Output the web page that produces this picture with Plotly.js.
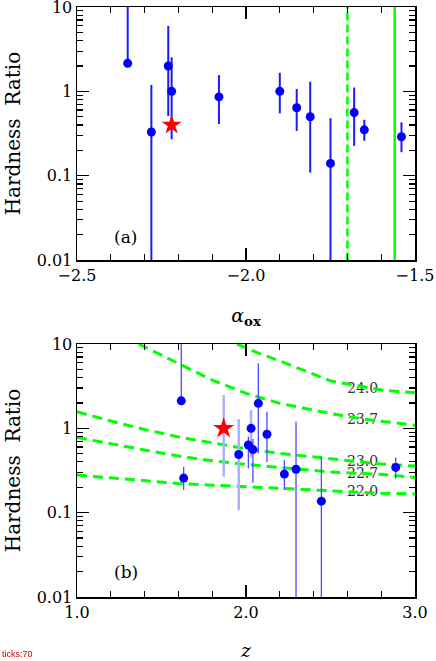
<!DOCTYPE html>
<html>
<head>
<meta charset="utf-8">
<script src="https://cdn.plot.ly/plotly-3.0.1.min.js"></script>
<style>
  body { margin: 0; background: #fff; }
  #chart { width: 436px; height: 661px; }
</style>
</head>
<body>
<div id="chart"></div>
<script>
// Panel (a): hardness ratio vs alpha_ox
const alphaOx = [-2.35, -2.28, -2.23, -2.22, -2.08, -1.90, -1.85, -1.81, -1.75, -1.68, -1.65, -1.54];
const hrA     = [2.15, 0.33, 2.0, 1.0, 0.86, 1.0, 0.64, 0.50, 0.14, 0.56, 0.35, 0.29];
const hrAHigh = [30, 1.19, 5.96, 2.53, 1.56, 1.66, 1.07, 1.30, 0.48, 1.11, 0.46, 0.43];
const hrALow  = [2.15, 0.001, 0.51, 0.27, 0.41, 0.55, 0.34, 0.109, 0.001, 0.226, 0.26, 0.19];
const starAlpha = [-2.22];
const starHrA = [0.40];
const dashedAlpha = -1.70;
const solidAlpha = -1.56;

// Panel (b): hardness ratio vs redshift
const zDark     = [1.617, 1.631, 2.014, 2.041, 2.073, 2.124, 2.227, 2.296, 2.446, 2.886];
const hrDark    = [2.12, 0.257, 0.634, 0.56, 1.98, 0.85, 0.287, 0.327, 0.137, 0.344];
const hrDarkHi  = [30, 0.35, 0.80, 0.75, 5.9, 1.57, 0.42, 1.2, 0.46, 0.45];
const hrDarkLo  = [2.12, 0.186, 0.335, 0.227, 0.505, 0.40, 0.186, 0.001, 0.001, 0.255];
const zFaint    = [1.957, 2.03];
const hrFaint   = [0.49, 1.0];
const hrFaintHi = [1.29, 1.65];
const hrFaintLo = [0.107, 0.45];
const starZ = [1.868];
const starHrB = [1.0];
const starHrBHi = [2.48];
const starHrBLo = [0.267];

// column density curves (log NH)
const nhLabels = ['24.0', '23.7', '23.0', '22.7', '22.0'];
const curveZ24_0 = [1.947, 2.065, 2.2, 2.5, 2.8, 3.0];
const curveHr24_0 = [10, 7.9, 6.3, 3.65, 2.85, 2.64];
const curveZ23_7 = [1.365, 1.6, 1.8, 2.0, 2.2, 2.5, 2.7, 3.0];
const curveHr23_7 = [10, 5.9, 3.74, 2.6, 1.98, 1.5, 1.28, 1.09];
const curveZ = [1.0, 1.2, 1.4, 1.6, 1.8, 2.0, 2.2, 2.5, 2.8, 3.0];
const curveHr23_0 = [1.57, 1.22, 0.97, 0.79, 0.675, 0.573, 0.505, 0.433, 0.377, 0.357];
const curveHr22_7 = [0.78, 0.65, 0.553, 0.469, 0.413, 0.374, 0.341, 0.303, 0.285, 0.262];
const curveHr22_0 = [0.279, 0.259, 0.239, 0.222, 0.212, 0.203, 0.194, 0.18, 0.17, 0.167];
const labelZ = [2.69, 2.69, 2.69, 2.69, 2.69];
const labelHr = [2.92, 1.25, 0.39, 0.284, 0.172];

const font = 'DejaVu Serif';
const green = '#00ff00';

function errUp(y, hi) { return y.map((v, i) => hi[i] - v); }
function errDown(y, lo) { return y.map((v, i) => v - lo[i]); }

function curve(x, y) {
    return {
        x: x, y: y, xaxis: 'x2', yaxis: 'y2', mode: 'lines', hoverinfo: 'skip',
        line: {color: green, width: 3, dash: '10px,6px'}
    };
}

let traces = [
    // vertical reference lines, panel (a)
    {x: [dashedAlpha, dashedAlpha], y: [0.001, 100], mode: 'lines',
     line: {color: green, width: 2.5, dash: '8px,4px'}},
    {x: [solidAlpha, solidAlpha], y: [0.001, 100], mode: 'lines',
     line: {color: green, width: 2.5}},
    {x: alphaOx, y: hrA, mode: 'markers',
     marker: {color: '#0000ff', size: 9},
     error_y: {type: 'data', symmetric: false, array: errUp(hrA, hrAHigh),
               arrayminus: errDown(hrA, hrALow), color: '#1a1aff', thickness: 2, width: 0}},
    {x: starAlpha, y: starHrA, mode: 'markers',
     marker: {color: '#ff0000', size: 15, symbol: 'star'}},

    // panel (b)
    {x: labelZ, y: labelHr, text: nhLabels, xaxis: 'x2', yaxis: 'y2', mode: 'text',
     textfont: {family: font, size: 14, color: '#333'}},
    curve(curveZ24_0, curveHr24_0),
    curve(curveZ23_7, curveHr23_7),
    curve(curveZ, curveHr23_0),
    curve(curveZ, curveHr22_7),
    curve(curveZ, curveHr22_0),
    {x: starZ, y: starHrB, xaxis: 'x2', yaxis: 'y2', mode: 'markers',
     marker: {color: '#ff0000', size: 16, symbol: 'star'},
     error_y: {type: 'data', symmetric: false, array: errUp(starHrB, starHrBHi),
               arrayminus: errDown(starHrB, starHrBLo), color: '#aab2ff', thickness: 2.5, width: 0}},
    {x: zFaint, y: hrFaint, xaxis: 'x2', yaxis: 'y2', mode: 'markers',
     marker: {color: '#0000ff', size: 9},
     error_y: {type: 'data', symmetric: false, array: errUp(hrFaint, hrFaintHi),
               arrayminus: errDown(hrFaint, hrFaintLo), color: '#aab2ff', thickness: 2.5, width: 0}},
    {x: zDark, y: hrDark, xaxis: 'x2', yaxis: 'y2', mode: 'markers',
     marker: {color: '#0000ff', size: 9},
     error_y: {type: 'data', symmetric: false, array: errUp(hrDark, hrDarkHi),
               arrayminus: errDown(hrDark, hrDarkLo), color: '#4a4aff', thickness: 1.3, width: 0}}
];

const frame = {
    showline: true, linecolor: '#000', linewidth: 1.5, mirror: 'allticks',
    ticks: 'inside', ticklen: 12, tickwidth: 1.2, tickcolor: '#000',
    showgrid: false, zeroline: false, ticklabeloverflow: 'allow',
    tickfont: {family: font, size: 16, color: '#000'}
};

function logAxis(domain, anchor) {
    return Object.assign({}, frame, {
        type: 'log', range: [-2, 1], dtick: 1, domain: domain, anchor: anchor,
        minor: {ticks: 'inside', ticklen: 6, tickcolor: '#000', showgrid: false},
        title: {text: 'Hardness\u00a0\u00a0Ratio', standoff: 10, font: {family: font, size: 20, color: '#000'}}
    });
}

let layout = {
    width: 436, height: 661,
    margin: {l: 77, r: 21, t: 7, b: 64},
    paper_bgcolor: '#fff', plot_bgcolor: '#fff',
    showlegend: false,
    xaxis: Object.assign({}, frame, {
        range: [-2.5, -1.5], dtick: 0.5, tickformat: '.1f', anchor: 'y',
        minor: {ticks: 'inside', ticklen: 6, dtick: 0.1, tickcolor: '#000', showgrid: false},
        title: {text: '<i>α</i><sub><b>ox</b></sub>', standoff: 25, font: {family: font, size: 19, color: '#000'}}
    }),
    yaxis: logAxis([0.571, 1], 'x'),
    xaxis2: Object.assign({}, frame, {
        range: [1, 3], dtick: 1, tickformat: '.1f', anchor: 'y2',
        minor: {ticks: 'inside', ticklen: 6, dtick: 0.2, tickcolor: '#000', showgrid: false},
        title: {text: '<i>z</i>', standoff: 25, font: {family: font, size: 19, color: '#000'}}
    }),
    yaxis2: logAxis([0, 0.4288], 'x2'),
    annotations: [
        {text: '(a)', xref: 'x domain', yref: 'y domain', x: 0.144, y: 0.092,
         xanchor: 'center', yanchor: 'middle',
         showarrow: false, font: {family: font, size: 17, color: '#000'}},
        {text: '(b)', xref: 'x2 domain', yref: 'y2 domain', x: 0.144, y: 0.098,
         xanchor: 'center', yanchor: 'middle',
         showarrow: false, font: {family: font, size: 17, color: '#000'}}
    ]
};

Plotly.newPlot('chart', traces, layout, {displayModeBar: false, staticPlot: true}).then(function () {
    // quick check of tick paths drawn
    const n = document.querySelectorAll('path.xtick, path.ytick, path.x2tick, path.y2tick').length;
    const d = document.createElement('div');
    d.style.cssText = 'position:fixed;left:2px;bottom:2px;font:9px sans-serif;color:#c00';
    d.textContent = 'ticks:' + n;
    document.body.appendChild(d);
});
</script>
</body>
</html>
